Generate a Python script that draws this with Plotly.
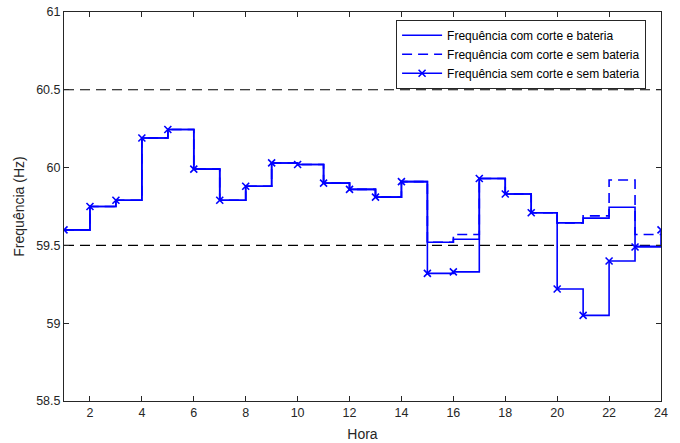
import plotly.graph_objects as go

hours = list(range(1, 25))
freq_corte_bateria = [59.60, 59.75, 59.79, 60.19, 60.245, 59.99, 59.79, 59.88, 60.03, 60.02,
                      59.90, 59.86, 59.81, 59.91, 59.52, 59.54, 59.93, 59.83, 59.71, 59.645,
                      59.675, 59.745, 59.495, 59.50]
freq_corte_sem_bateria = [59.60, 59.75, 59.79, 60.19, 60.245, 59.99, 59.79, 59.88, 60.03, 60.02,
                          59.90, 59.86, 59.81, 59.91, 59.52, 59.57, 59.93, 59.83, 59.71, 59.645,
                          59.69, 59.92, 59.57, 59.57]
freq_sem_corte_sem_bateria = [59.60, 59.75, 59.79, 60.19, 60.245, 59.99, 59.79, 59.88, 60.03, 60.02,
                              59.90, 59.86, 59.81, 59.91, 59.32, 59.33, 59.93, 59.83, 59.71, 59.22,
                              59.05, 59.40, 59.49, 59.60]
limits = [59.5, 60.5]
x_ticks = list(range(2, 25, 2))
y_ticks = [58.5, 59, 59.5, 60, 60.5, 61]

BLUE = "#0000FF"
FONT = "Liberation Sans, Arial, Helvetica, sans-serif"
fig = go.Figure()

for lim in limits:
    fig.add_trace(go.Scatter(x=[hours[0], hours[-1]], y=[lim, lim], mode="lines",
                             line=dict(color="black", width=1.1, dash="10px,6px"),
                             showlegend=False, hoverinfo="skip"))

fig.add_trace(go.Scatter(x=hours, y=freq_corte_bateria, mode="lines", line_shape="hv",
                         line=dict(color=BLUE, width=1.6),
                         name="Frequência com corte e bateria"))
fig.add_trace(go.Scatter(x=hours, y=freq_corte_sem_bateria, mode="lines", line_shape="hv",
                         line=dict(color=BLUE, width=1.6, dash="10px,6px"),
                         name="Frequência com corte e sem bateria"))
fig.add_trace(go.Scatter(x=hours, y=freq_sem_corte_sem_bateria, mode="lines+markers", line_shape="hv",
                         line=dict(color=BLUE, width=1.6),
                         marker=dict(symbol="x-thin", size=7, line=dict(color=BLUE, width=1.6)),
                         name="Frequência sem corte e sem bateria"))

axis_common = dict(showline=True, linecolor="#262626", linewidth=1, mirror="ticks",
                   ticks="inside", ticklen=5, tickcolor="#262626", showgrid=False, zeroline=False,
                   automargin=False,
                   tickfont=dict(family=FONT, size=12.5, color="#262626"),
                   title_font=dict(family=FONT, size=14, color="#262626"))

fig.update_xaxes(range=[1, 24], tickvals=x_ticks, title_text="Hora", title_standoff=10, **axis_common)
fig.update_yaxes(range=[58.5, 61], tickvals=y_ticks, ticktext=[f"{v:g}" for v in y_ticks],
                 title_text="Frequência (Hz)", title_standoff=8, **axis_common)

fig.update_layout(
    width=680, height=443,
    margin=dict(l=64, r=19, t=12, b=42),
    plot_bgcolor="white", paper_bgcolor="white",
    showlegend=True,
    legend=dict(x=0.975, y=0.98, xanchor="right", yanchor="top",
                bgcolor="white", bordercolor="#262626", borderwidth=1,
                font=dict(family=FONT, size=12, color="black"),
                tracegroupgap=0, itemwidth=40),
    font=dict(family=FONT),
)

fig.write_html("out.html")
